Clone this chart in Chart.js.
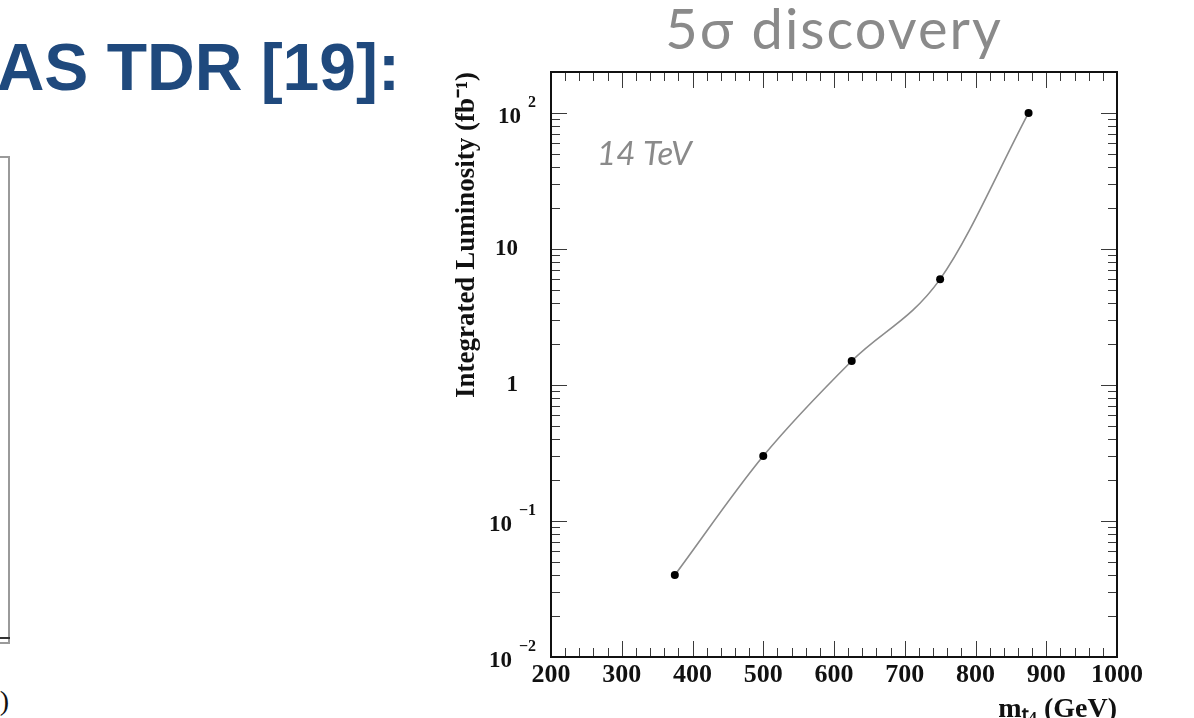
<!DOCTYPE html>
<html>
<head>
<meta charset="utf-8">
<script src="https://cdn.jsdelivr.net/npm/chart.js@4.4.1/dist/chart.umd.min.js"></script>
<style>
  html, body { margin: 0; padding: 0; background: #fff; }
  body { position: relative; width: 1194px; height: 718px; overflow: hidden; }
  #slideTitle {
    position: absolute; right: 794px; top: 34px;
    font: bold 66px "Liberation Sans", Arial, sans-serif; line-height: 66px;
    color: #1f497d; white-space: nowrap;
  }
  #sideFrame {
    position: absolute; left: -12px; top: 156px; width: 20px; height: 484px;
    border: 2px solid #9a9a9a; border-left: none;
  }
  #sideAxis {
    position: absolute; left: 0; top: 637px; width: 10px; height: 2px; background: #333;
  }
  #sideUnit {
    position: absolute; right: 1185px; top: 684px;
    font: 28px "Liberation Serif", serif; line-height: 34px; color: #111; white-space: nowrap;
  }
  #plotWrap { position: absolute; left: 440px; top: 0; width: 720px; height: 760px; }
</style>
</head>
<body>
<div id="slideTitle">ATLAS TDR [19]:</div>
<div id="sideFrame"></div>
<div id="sideAxis"></div>
<div id="sideUnit">(GeV)</div>
<div id="plotWrap"><canvas id="lumi"></canvas></div>
<script>
// Integrated luminosity needed for a 5 sigma discovery vs. fourth-generation top mass
const massValues = [375, 500, 625, 750, 875];          // GeV
const lumiValues = [0.04, 0.3, 1.5, 6, 100];            // fb^-1

const xTickValues = [200, 300, 400, 500, 600, 700, 800, 900, 1000];
const xTickLabels = ['200', '300', '400', '500', '600', '700', '800', '900', '1000'];
const yTickValues = [0.01, 0.1, 1, 10, 100];
const yTickBases  = ['10', '10', '1', '10', '10'];
const yTickExps   = ['−2', '−1', '', '', '2'];

const xMin = 200, xMax = 1000, yMin = 0.01, yMax = 200;
const plotTitle = '5σ discovery';
const energyLabel = '14 TeV';
const energyLabelAt = { x: 265, y: 50 };

const serif = '"Liberation Serif", "Times New Roman", serif';

// ROOT-style frame: inward ticks on all four sides, exponent tick labels, headline
const rootFrame = {
  id: 'rootFrame',
  afterDatasetsDraw(chart) {
    const { ctx, chartArea: a, scales: { x, y } } = chart;
    ctx.save();
    ctx.strokeStyle = '#3a3a3a';
    ctx.lineWidth = 1;
    ctx.beginPath();
    // x ticks: major every 100, minor every 20
    for (let v = xMin; v <= xMax; v += 20) {
      const px = Math.round(x.getPixelForValue(v)) + 0.5;
      const len = (v % 100 === 0) ? 16 : 9;
      ctx.moveTo(px, a.bottom); ctx.lineTo(px, a.bottom - len);
      ctx.moveTo(px, a.top);    ctx.lineTo(px, a.top + len);
    }
    // y ticks: major at decades, minor at 2..9
    for (let d = -2; d <= 2; d++) {
      for (let m = 1; m <= 9; m++) {
        const v = m * Math.pow(10, d);
        if (v > yMax) break;
        const py = Math.round(y.getPixelForValue(v)) + 0.5;
        const len = (m === 1) ? 16 : 9;
        ctx.moveTo(a.left, py);  ctx.lineTo(a.left + len, py);
        ctx.moveTo(a.right, py); ctx.lineTo(a.right - len, py);
      }
    }
    ctx.stroke();

    // frame
    ctx.strokeStyle = '#111';
    ctx.lineWidth = 2;
    ctx.strokeRect(a.left, a.top, a.right - a.left, a.bottom - a.top);

    // y tick labels
    ctx.fillStyle = '#111';
    ctx.textBaseline = 'middle';
    ctx.textAlign = 'right';
    yTickValues.forEach((v, i) => {
      const py = y.getPixelForValue(v);
      const base = yTickBases[i], exp = yTickExps[i];
      if (exp) {
        ctx.font = 'bold 16px ' + serif;
        const expRight = a.left - 15;
        ctx.fillText(exp, expRight, py - 10);
        const ew = ctx.measureText(exp).width;
        ctx.font = 'bold 23px ' + serif;
        ctx.fillText(base, expRight - ew - 7, py + 4);
      } else {
        ctx.font = 'bold 23px ' + serif;
        ctx.fillText(base, a.left - 33, py);
      }
    });

    // energy label
    ctx.font = 'italic 33px Lato, "Open Sans", sans-serif';
    ctx.fillStyle = '#8a8a8a';
    ctx.textAlign = 'left';
    ctx.fillText(energyLabel, x.getPixelForValue(energyLabelAt.x), y.getPixelForValue(energyLabelAt.y));

    // headline above the frame
    ctx.font = '56px Lato, "Open Sans", sans-serif';
    ctx.fillStyle = '#8a8a8a';
    ctx.textAlign = 'center';
    ctx.textBaseline = 'alphabetic';
    if ('letterSpacing' in ctx) ctx.letterSpacing = '2px';
    ctx.fillText(plotTitle, (a.left + a.right) / 2, a.top - 23);
    ctx.restore();
  }
};

new Chart(document.getElementById('lumi'), {
  type: 'line',
  data: {
    datasets: [{
      data: massValues.map((m, i) => ({ x: m, y: lumiValues[i] })),
      borderColor: '#8c8c8c',
      borderWidth: 1.6,
      cubicInterpolationMode: 'monotone',
      pointRadius: 4,
      pointBackgroundColor: '#000',
      pointBorderWidth: 0,
      fill: false
    }]
  },
  options: {
    responsive: true,
    maintainAspectRatio: false,
    animation: false,
    layout: { padding: { left: 0, right: 43, top: 72, bottom: 0 } },
    plugins: {
      legend: { display: false },
      tooltip: { enabled: false },
      title: { display: false }
    },
    scales: {
      x: {
        type: 'linear',
        min: xMin, max: xMax,
        afterBuildTicks(scale) { scale.ticks = xTickValues.map(v => ({ value: v })); },
        afterFit(scale) { scale.height = 103; },
        grid: { display: false, drawTicks: false },
        border: { display: false },
        ticks: {
          padding: 3,
          color: '#111',
          font: { family: serif, size: 26, weight: 'bold' },
          maxRotation: 0,
          autoSkip: false,
          callback: (v, i) => xTickLabels[i]
        },
        title: {
          display: true,
          text: 'mₜ₄ (GeV)',
          align: 'end',
          color: '#111',
          font: { family: serif, size: 28, weight: 'bold', lineHeight: 1.2 },
          padding: { top: 0, bottom: 33 }
        }
      },
      y: {
        type: 'logarithmic',
        min: yMin, max: yMax,
        afterFit(scale) { scale.width = 111; },
        grid: { display: false, drawTicks: false },
        border: { display: false },
        ticks: { display: false },
        title: {
          display: true,
          text: 'Integrated Luminosity (fb⁻¹)',
          align: 'end',
          color: '#111',
          font: { family: serif, size: 27, weight: 'bold', lineHeight: 1.2 },
          padding: { top: 11, bottom: 0 }
        }
      }
    }
  },
  plugins: [rootFrame]
});
</script>
</body>
</html>
